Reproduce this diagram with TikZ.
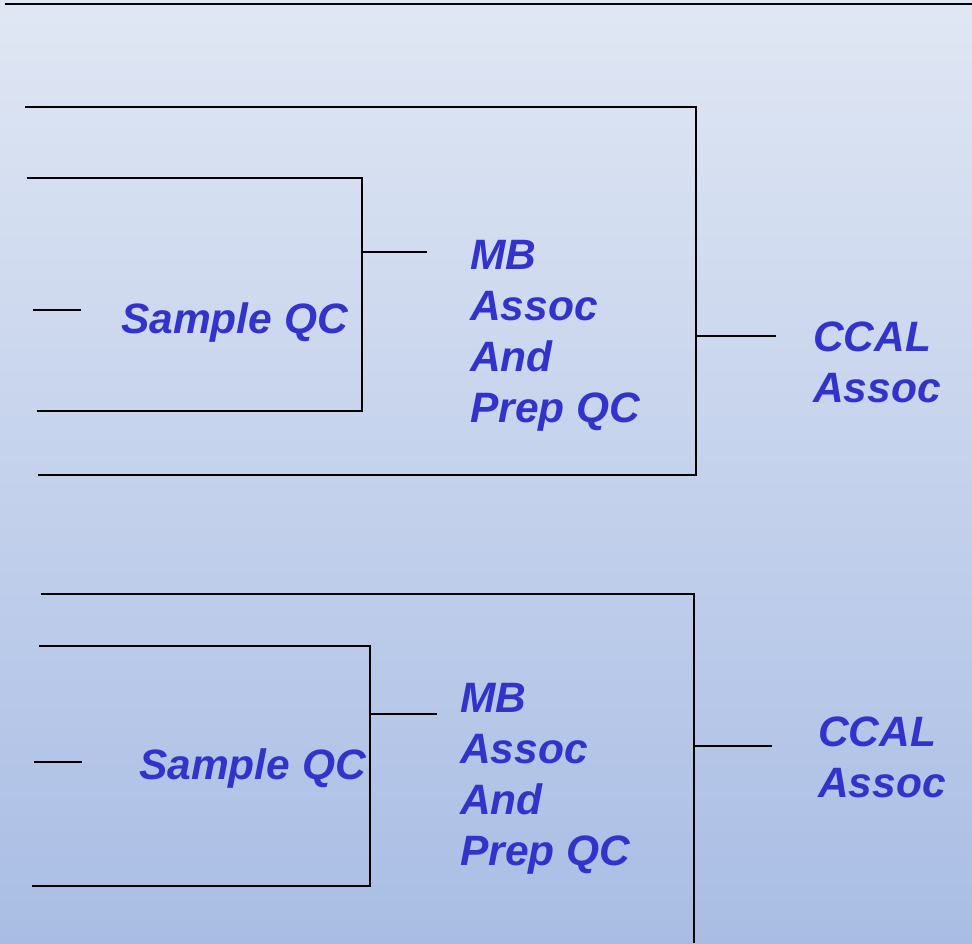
\documentclass[tikz,border=0pt]{standalone}
\usepackage{fontspec}
\setmainfont{Liberation Sans}
\definecolor{txtblue}{RGB}{51,51,204}
\definecolor{bgtop}{RGB}{224,231,244}
\definecolor{bgbot}{RGB}{169,189,228}
\begin{document}
\begin{tikzpicture}[x=1pt,y=-1pt,
  conn/.style={draw=black,line width=1.6pt},
  lbl/.style={text=txtblue,font=\fontsize{42.5}{51}\selectfont\bfseries\itshape,inner sep=0pt,anchor=base west,align=left}]
\useasboundingbox (0,0) rectangle (972,943);
\shade[top color=bgtop,bottom color=bgbot] (0,0) rectangle (972,943);
% top rule
\coordinate (t0a) at (5,4);
\coordinate (t0b) at (972,4);
\draw[conn,line width=2.4pt] (t0a) -- (t0b);
% ---------- group 1 ----------
\coordinate (o1tl) at (25,107);
\coordinate (o1tr) at (696,107);
\coordinate (o1br) at (696,475);
\coordinate (o1bl) at (38,475);
\coordinate (o1m) at (696,336);
\coordinate (o1s) at (776,336);
\coordinate (i1tl) at (27,178);
\coordinate (i1tr) at (362,178);
\coordinate (i1br) at (362,411);
\coordinate (i1bl) at (37,411);
\coordinate (i1m) at (362,252);
\coordinate (i1s) at (427,252);
\coordinate (l1a) at (33,310);
\coordinate (l1b) at (81,310);
\draw[conn] (o1tl) -- (o1tr) -- (o1br) -- (o1bl);
\draw[conn] (o1m) -- (o1s);
\draw[conn] (i1tl) -- (i1tr) -- (i1br) -- (i1bl);
\draw[conn] (i1m) -- (i1s);
\draw[conn] (l1a) -- (l1b);
\node[lbl] (sq1) at (121,333) {Sample QC};
\node[lbl] (mb1) at (470,422) {MB\\Assoc\\And\\Prep QC};
\node[lbl] (cc1) at (813,402) {CCAL\\Assoc};
% ---------- group 2 ----------
\coordinate (o2tl) at (41,594);
\coordinate (o2tr) at (694,594);
\coordinate (o2b) at (694,943);
\coordinate (o2m) at (694,746);
\coordinate (o2s) at (772,746);
\coordinate (i2tl) at (39,646);
\coordinate (i2tr) at (370,646);
\coordinate (i2br) at (370,886);
\coordinate (i2bl) at (32,886);
\coordinate (i2m) at (370,714);
\coordinate (i2s) at (437,714);
\coordinate (l2a) at (34,762);
\coordinate (l2b) at (82,762);
\draw[conn] (o2tl) -- (o2tr) -- (o2b);
\draw[conn] (o2m) -- (o2s);
\draw[conn] (i2tl) -- (i2tr) -- (i2br) -- (i2bl);
\draw[conn] (i2m) -- (i2s);
\draw[conn] (l2a) -- (l2b);
\node[lbl] (sq2) at (139,779) {Sample QC};
\node[lbl] (mb2) at (460,865) {MB\\Assoc\\And\\Prep QC};
\node[lbl] (cc2) at (818,797) {CCAL\\Assoc};
\end{tikzpicture}
\end{document}
